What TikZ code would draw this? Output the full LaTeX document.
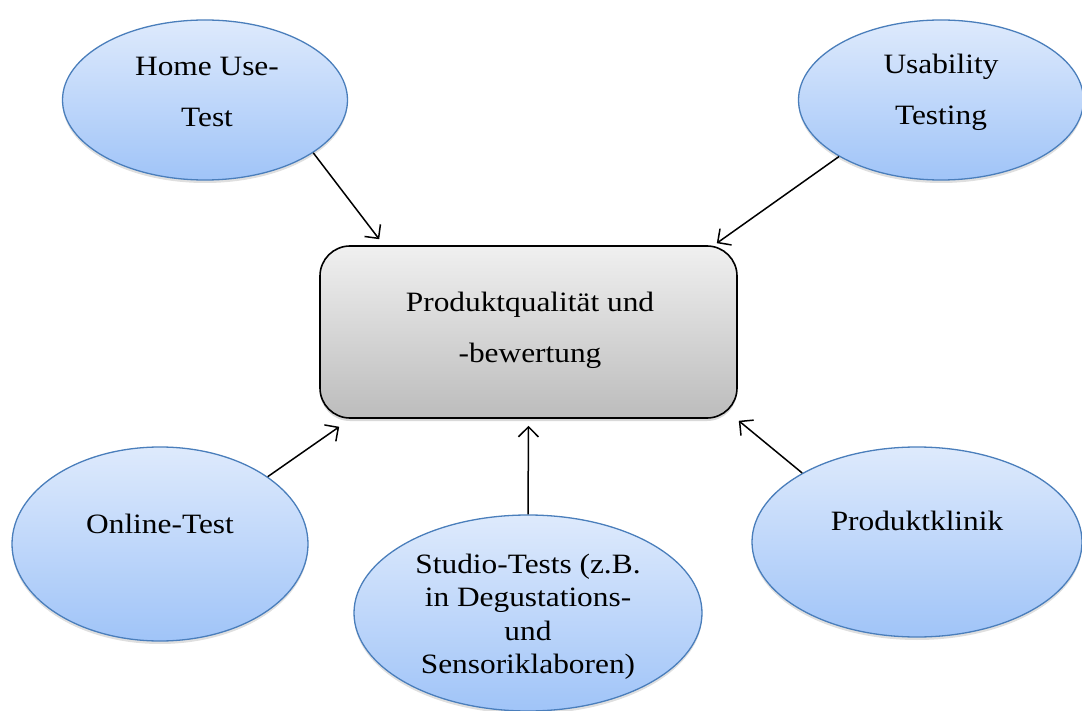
\documentclass[tikz,border=0pt]{standalone}
\usepackage{fontspec}
\setmainfont{Liberation Serif}[FakeStretch=1.12]
\usetikzlibrary{arrows.meta,shapes.geometric,shadows}
\definecolor{elltop}{RGB}{222,234,252}
\definecolor{ellbot}{RGB}{160,196,248}
\definecolor{ellborder}{RGB}{74,126,187}
\definecolor{recttop}{RGB}{240,240,240}
\definecolor{rectbot}{RGB}{188,188,188}
\tikzset{
  bubble/.style={ellipse, draw=ellborder, line width=1.3pt, top color=elltop, bottom color=ellbot, inner sep=0pt,
    drop shadow={opacity=0.25, shadow xshift=0pt, shadow yshift=-3pt}},
  mainbox/.style={rectangle, rounded corners=30pt, draw=black, line width=1.6pt, top color=recttop, bottom color=rectbot,
    minimum width=417pt, minimum height=172pt, inner sep=0pt,
    drop shadow={opacity=0.3, shadow xshift=0pt, shadow yshift=-3pt}},
  lbl/.style={align=center, font=\fontsize{28}{51}\selectfont, inner sep=0pt},
  lblsmall/.style={align=center, font=\fontsize{28}{33.5}\selectfont, inner sep=0pt},
  arr/.style={-{Straight Barb[length=10pt,width=20pt,line width=1.5pt]}, line width=1.5pt, black}
}
\begin{document}
\begin{tikzpicture}[x=1pt,y=-1pt]
\useasboundingbox (0,0) rectangle (1082,711);
\node[mainbox] (rect) at (528.5,332) {};
\node[bubble, minimum width=285pt, minimum height=160pt] (home) at (205,100) {};
\node[bubble, minimum width=285pt, minimum height=160pt] (usab) at (941,100) {};
\node[bubble, minimum width=296pt, minimum height=194pt] (online) at (160,544) {};
\node[bubble, minimum width=348pt, minimum height=196pt] (studio) at (528,613) {};
\node[bubble, minimum width=330pt, minimum height=190pt] (klinik) at (917,542) {};

\node[lbl] (rectt) at (530,330) {Produktqualität und\\-bewertung};
\node[lbl] (homet) at (207,92) {Home Use-\\Test};
\node[lbl] (usabt) at (941,92) {Usability\\Testing};
\node[lbl] (onlinet) at (160,524) {Online-Test};
\node[lbl] (klinikt) at (917,521) {Produktklinik};
\node[lblsmall] (studiot) at (528,617) {Studio-Tests (z.B.\\in Degustations-\\und\\Sensoriklaboren)};

\draw[arr] (home.-26) -- ([shift={(60,-6)}]rect.north west);
\draw[arr] (usab.209) -- ([shift={(-21,-2)}]rect.north east);
\draw[arr] (online.32) -- ([shift={(20,8)}]rect.south west);
\draw[arr] (studio.north) -- ([shift={(0,7)}]rect.south);
\draw[arr] (klinik.149) -- ([shift={(1,2)}]rect.south east);
\end{tikzpicture}
\end{document}
